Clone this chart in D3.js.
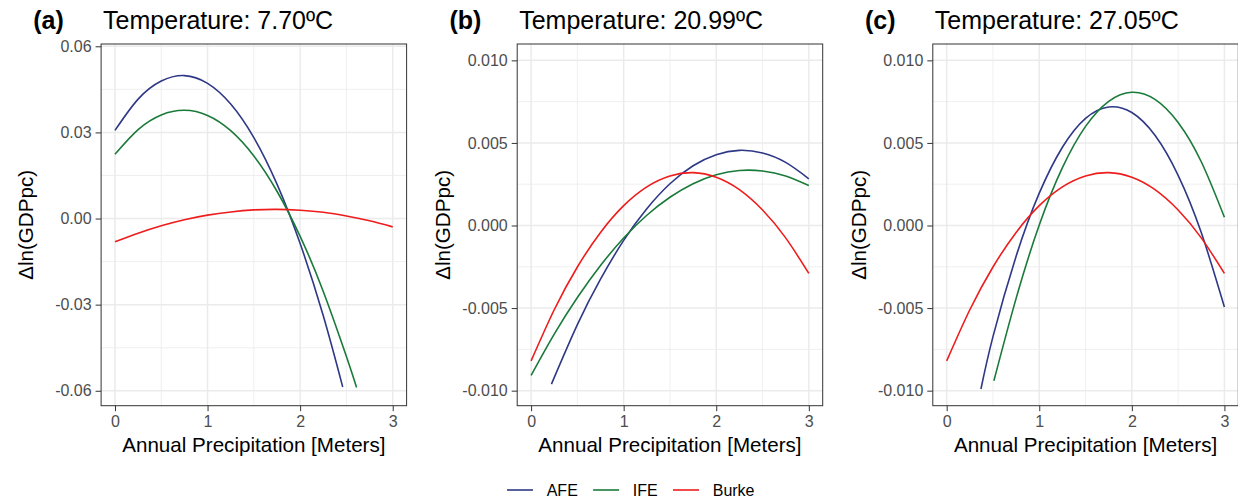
<!DOCTYPE html>
<html>
<head>
<meta charset="utf-8">
<script src="https://cdn.jsdelivr.net/npm/d3@7"></script>
<style>
  html, body { margin: 0; padding: 0; background: #ffffff; }
  svg { display: block; font-family: "Liberation Sans", Arial, Helvetica, sans-serif; }
</style>
</head>
<body>
<svg id="chart" width="1238" height="502"></svg>
<script>
// ---------------- DATA ----------------
const seriesNames = ["AFE", "IFE", "Burke"];
const seriesColors = ["#2e3886", "#1a7a3a", "#ee1c1c"];

const panelTags = ["(a)", "(b)", "(c)"];
const panelTitles = ["Temperature: 7.70\u00BAC", "Temperature: 20.99\u00BAC", "Temperature: 27.05\u00BAC"];

const xTicks = [0, 1, 2, 3];
const xMinor = [0.5, 1.5, 2.5];
const yTicksA = [-0.06, -0.03, 0.00, 0.03, 0.06];
const yTickLabelsA = ["-0.06", "-0.03", "0.00", "0.03", "0.06"];
const yMinorA = [-0.045, -0.015, 0.015, 0.045];
const yTicksBC = [-0.010, -0.005, 0.000, 0.005, 0.010];
const yTickLabelsBC = ["-0.010", "-0.005", "0.000", "0.005", "0.010"];
const yMinorBC = [-0.0075, -0.0025, 0.0025, 0.0075];

const xLabel = "Annual Precipitation [Meters]";
const yLabel = "\u0394ln(GDPpc)";

// Panel (a) – Temperature 7.70
const afeA_x = [0, 0.25, 0.5, 0.75, 1, 1.25, 1.5, 1.75, 2, 2.25, 2.46];
const afeA_y = [0.0307, 0.0416, 0.0479, 0.0498, 0.0471, 0.0399, 0.0282, 0.0120, -0.0087, -0.0339, -0.0587];
const ifeA_x = [0, 0.25, 0.5, 0.75, 1, 1.25, 1.5, 1.75, 2, 2.25, 2.5, 2.61];
const ifeA_y = [0.0224, 0.0310, 0.0361, 0.0377, 0.0359, 0.0306, 0.0218, 0.0095, -0.0062, -0.0254, -0.0481, -0.0589];
const burkeA_x = [0, 0.25, 0.5, 0.75, 1, 1.25, 1.5, 1.75, 2, 2.25, 2.5, 2.75, 3];
const burkeA_y = [-0.0081, -0.0051, -0.0025, -0.0004, 0.0012, 0.0023, 0.0030, 0.0032, 0.0029, 0.0022, 0.0009, -0.0008, -0.0029];

// Panel (b) – Temperature 20.99
const afeB_x = [0.22, 0.5, 0.75, 1, 1.25, 1.5, 1.75, 2, 2.25, 2.5, 2.75, 3];
const afeB_y = [-0.00960, -0.00600, -0.00325, -0.00090, 0.00102, 0.00253, 0.00362, 0.00429, 0.00455, 0.00439, 0.00382, 0.00283];
const ifeB_x = [0, 0.25, 0.5, 0.75, 1, 1.25, 1.5, 1.75, 2, 2.25, 2.5, 2.75, 3];
const ifeB_y = [-0.00908, -0.00658, -0.00436, -0.00242, -0.00076, 0.00062, 0.00171, 0.00253, 0.00307, 0.00333, 0.00330, 0.00300, 0.00242];
const burkeB_x = [0, 0.25, 0.5, 0.75, 1, 1.25, 1.5, 1.75, 2, 2.25, 2.5, 2.75, 3];
const burkeB_y = [-0.00820, -0.00510, -0.00251, -0.00042, 0.00120, 0.00234, 0.00300, 0.00320, 0.00292, 0.00217, 0.00094, -0.00075, -0.00290];

// Panel (c) – Temperature 27.05
const afeC_x = [0.37, 0.5, 0.75, 1, 1.25, 1.5, 1.75, 2, 2.25, 2.5, 2.75, 3];
const afeC_y = [-0.00990, -0.00673, -0.00186, 0.00196, 0.00474, 0.00649, 0.00718, 0.00684, 0.00546, 0.00304, -0.00043, -0.00494];
const ifeC_x = [0.51, 0.75, 1, 1.25, 1.5, 1.75, 2, 2.25, 2.5, 2.75, 3];
const ifeC_y = [-0.00940, -0.00441, 0.00003, 0.00350, 0.00600, 0.00752, 0.00807, 0.00764, 0.00624, 0.00386, 0.00050];
const burkeC_x = [0, 0.25, 0.5, 0.75, 1, 1.25, 1.5, 1.75, 2, 2.25, 2.5, 2.75, 3];
const burkeC_y = [-0.00820, -0.00510, -0.00251, -0.00042, 0.00120, 0.00234, 0.00300, 0.00320, 0.00292, 0.00217, 0.00094, -0.00075, -0.00290];

// ---------------- BUILD ----------------
const zip = (xs, ys) => xs.map((x, i) => ({x: x, y: ys[i]}));

const panels = [
  { tag: panelTags[0], title: panelTitles[0],
    yDomain: [-0.0652, 0.0608], yTicks: yTicksA, yLabels: yTickLabelsA, yMinor: yMinorA,
    series: [zip(afeA_x, afeA_y), zip(ifeA_x, ifeA_y), zip(burkeA_x, burkeA_y)],
    left: 101.1, yTitleX: 26 },
  { tag: panelTags[1], title: panelTitles[1],
    yDomain: [-0.01091, 0.01099], yTicks: yTicksBC, yLabels: yTickLabelsBC, yMinor: yMinorBC,
    series: [zip(afeB_x, afeB_y), zip(ifeB_x, ifeB_y), zip(burkeB_x, burkeB_y)],
    left: 517.2, yTitleX: 443.3 },
  { tag: panelTags[2], title: panelTitles[2],
    yDomain: [-0.01091, 0.01099], yTicks: yTicksBC, yLabels: yTickLabelsBC, yMinor: yMinorBC,
    series: [zip(afeC_x, afeC_y), zip(ifeC_x, ifeC_y), zip(burkeC_x, burkeC_y)],
    left: 932.8, yTitleX: 859 }
];

const svg = d3.select("#chart");
const plotTop = 44, plotBottom = 405.7, plotWidth = 305.5;
const gridColor = "#ebebeb", axisColor = "#333333", tickTextColor = "#4d4d4d";

panels.forEach(p => {
  const x = d3.scaleLinear().domain([-0.15, 3.15]).range([p.left, p.left + plotWidth]);
  const y = d3.scaleLinear().domain(p.yDomain).range([plotBottom, plotTop]);
  const g = svg.append("g");

  // background grid: minor
  g.selectAll(".xminor").data(xMinor).join("line")
    .attr("x1", d => x(d)).attr("x2", d => x(d))
    .attr("y1", plotTop).attr("y2", plotBottom)
    .attr("stroke", gridColor).attr("stroke-width", 0.8);
  g.selectAll(".yminor").data(p.yMinor).join("line")
    .attr("x1", p.left).attr("x2", p.left + plotWidth)
    .attr("y1", d => y(d)).attr("y2", d => y(d))
    .attr("stroke", gridColor).attr("stroke-width", 0.8);
  // major
  g.selectAll(".xmajor").data(xTicks).join("line")
    .attr("x1", d => x(d)).attr("x2", d => x(d))
    .attr("y1", plotTop).attr("y2", plotBottom)
    .attr("stroke", gridColor).attr("stroke-width", 1.5);
  g.selectAll(".ymajor").data(p.yTicks).join("line")
    .attr("x1", p.left).attr("x2", p.left + plotWidth)
    .attr("y1", d => y(d)).attr("y2", d => y(d))
    .attr("stroke", gridColor).attr("stroke-width", 1.5);

  // lines
  const line = d3.line().x(d => x(d.x)).y(d => y(d.y)).curve(d3.curveNatural);
  p.series.forEach((s, i) => {
    g.append("path").datum(s)
      .attr("d", line)
      .attr("fill", "none")
      .attr("stroke", seriesColors[i])
      .attr("stroke-width", 1.6);
  });

  // border
  g.append("rect")
    .attr("x", p.left).attr("y", plotTop)
    .attr("width", plotWidth).attr("height", plotBottom - plotTop)
    .attr("fill", "none").attr("stroke", axisColor).attr("stroke-width", 1);

  // x axis
  const xAxis = d3.axisBottom(x).tickValues(xTicks).tickFormat(d3.format("d"))
    .tickSizeInner(5.5).tickSizeOuter(0).tickPadding(4);
  const xa = g.append("g").attr("transform", `translate(0,${plotBottom})`).call(xAxis);
  xa.select(".domain").remove();
  xa.selectAll(".tick line").attr("stroke", axisColor);
  xa.selectAll(".tick text").attr("fill", tickTextColor)
    .attr("font-size", 16).attr("font-family", null);

  // y axis
  const yAxis = d3.axisLeft(y).tickValues(p.yTicks)
    .tickFormat((d, i) => p.yLabels[i])
    .tickSizeInner(5.5).tickSizeOuter(0).tickPadding(4);
  const ya = g.append("g").attr("transform", `translate(${p.left},0)`).call(yAxis);
  ya.select(".domain").remove();
  ya.selectAll(".tick line").attr("stroke", axisColor);
  ya.selectAll(".tick text").attr("fill", tickTextColor)
    .attr("font-size", 16).attr("font-family", null);

  // axis titles
  g.append("text")
    .attr("x", p.left + plotWidth / 2).attr("y", 452)
    .attr("text-anchor", "middle").attr("font-size", 20.6).attr("fill", "#000")
    .text(xLabel);
  g.append("text")
    .attr("transform", `translate(${p.yTitleX + 7},${(plotTop + plotBottom) / 2}) rotate(-90)`)
    .attr("text-anchor", "middle").attr("font-size", 20.6).attr("fill", "#000")
    .text(yLabel);

  // tag and title
  g.append("text")
    .attr("x", p.left - 67.8).attr("y", 28.5)
    .attr("font-size", 25).attr("font-weight", "bold").attr("fill", "#000")
    .text(p.tag);
  g.append("text")
    .attr("x", p.left + 2).attr("y", 28.5)
    .attr("font-size", 25).attr("fill", "#000")
    .text(p.title);
});

// legend
const legend = svg.append("g");
let lx = 507;
const ly = 490;
seriesNames.forEach((name, i) => {
  legend.append("line")
    .attr("x1", lx).attr("x2", lx + 26)
    .attr("y1", ly).attr("y2", ly)
    .attr("stroke", seriesColors[i]).attr("stroke-width", 1.6);
  const t = legend.append("text")
    .attr("x", lx + 39.7).attr("y", ly + 6)
    .attr("font-size", 16).attr("fill", "#000")
    .text(name);
  lx = lx + 39.7 + t.node().getComputedTextLength() + 15.3;
});
</script>
</body>
</html>
